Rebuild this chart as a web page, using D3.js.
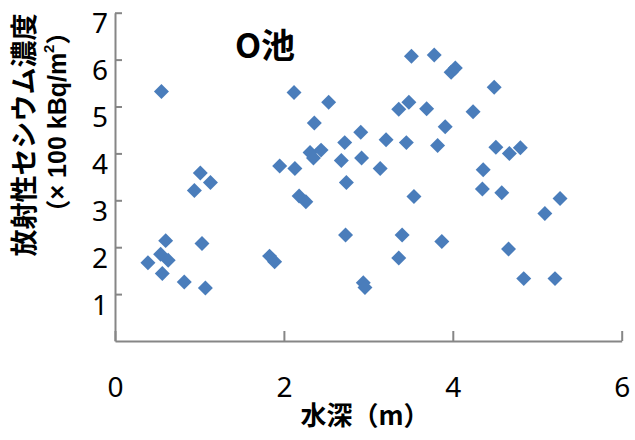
<!DOCTYPE html>
<html>
<head>
<meta charset="utf-8">
<script src="https://cdn.jsdelivr.net/npm/d3@7"></script>
<style>
  body { margin: 0; background: #fff; }
  svg { display: block; }
</style>
</head>
<body>
<div id="chart"></div>
<script>
// Water depth (m) and radioactive cesium concentration (x100 kBq/m2)
const depth = [0.39, 0.54, 0.56, 0.60, 0.63, 0.55, 0.82, 0.94, 1.01, 1.03, 1.07, 1.13,
  1.83, 1.89, 1.95, 2.12, 2.13, 2.18, 2.26, 2.31, 2.35, 2.36, 2.44, 2.53, 2.68, 2.72,
  2.73, 2.74, 2.91, 2.92, 2.94, 2.96, 3.14, 3.21, 3.36, 3.36, 3.40, 3.45, 3.48, 3.51,
  3.54, 3.69, 3.78, 3.82, 3.87, 3.91, 3.98, 4.03, 4.24, 4.35, 4.36, 4.49, 4.51, 4.58,
  4.66, 4.67, 4.80, 4.84, 5.09, 5.21, 5.27];
const cesium = [1.67, 1.85, 1.44, 2.14, 1.72, 5.32, 1.26, 3.21, 3.58, 2.08, 1.13, 3.38,
  1.81, 1.69, 3.73, 5.30, 3.68, 3.09, 2.97, 4.02, 3.90, 4.65, 4.07, 5.09, 3.85, 4.23,
  2.26, 3.38, 4.45, 3.90, 1.24, 1.14, 3.68, 4.29, 4.94, 1.77, 2.26, 4.23, 5.09, 6.07,
  3.08, 4.95, 6.10, 4.17, 2.12, 4.57, 5.73, 5.82, 4.89, 3.24, 3.65, 5.41, 4.13, 3.16,
  1.96, 4.00, 4.12, 1.33, 2.72, 1.33, 3.04];
const xTicks = [0, 2, 4, 6];
const yTicks = [1, 2, 3, 4, 5, 6, 7];

const width = 635, height = 440;
const axisColor = "#868686";
const markColor = "#4a7dbb";

const svg = d3.select("#chart").append("svg")
    .attr("width", width)
    .attr("height", height);

const x = d3.scaleLinear().domain([0, 6]).range([115, 621.7]);
const y = d3.scaleLinear().domain([0, 7]).range([341, 12.7]);

// x axis, ticks pointing up into the plot
const gx = svg.append("g")
    .attr("transform", `translate(0,${y(0)})`)
    .call(d3.axisBottom(x).tickValues(xTicks).tickFormat(d3.format("d"))
        .tickSize(-10).tickSizeOuter(0).tickPadding(36));

// y axis, ticks pointing right into the plot
const gy = svg.append("g")
    .attr("transform", `translate(${x(0)},0)`)
    .call(d3.axisLeft(y).tickValues(yTicks).tickFormat(d3.format("d"))
        .tickSize(-7).tickSizeOuter(0).tickPadding(7));

[gx, gy].forEach(g => {
    g.select(".domain").attr("stroke", axisColor).attr("stroke-width", 2);
    g.selectAll(".tick line").attr("stroke", axisColor).attr("stroke-width", 2);
    g.selectAll(".tick text")
        .attr("fill", "#000")
        .style("font-family", "'Noto Sans', sans-serif")
        .style("font-size", "28px");
});
gy.selectAll(".tick text").attr("y", 11);

// markers
const points = depth.map((d, i) => ({ depth: d, cesium: cesium[i] }));
svg.append("g").selectAll("path")
    .data(points)
    .enter()
    .append("path")
    .attr("d", d3.symbol().type(d3.symbolSquare).size(112))
    .attr("transform", d => `translate(${x(d.depth)},${y(d.cesium)}) rotate(45)`)
    .attr("fill", markColor);

// title
svg.append("text")
    .attr("x", 265)
    .attr("y", 58)
    .attr("text-anchor", "middle")
    .style("font-family", "'Noto Sans CJK JP', sans-serif")
    .style("font-weight", "bold")
    .style("font-size", "34px")
    .text("O池");

// x axis title
svg.append("text")
    .attr("x", 365)
    .attr("y", 425)
    .attr("text-anchor", "middle")
    .style("font-family", "'Noto Sans CJK JP', sans-serif")
    .style("font-weight", "bold")
    .style("font-size", "26px")
    .text("水深（m）");

// y axis title, two lines
svg.append("text")
    .attr("transform", "translate(22,135) rotate(-90)")
    .attr("text-anchor", "middle")
    .attr("dominant-baseline", "central")
    .style("font-family", "'Noto Sans CJK JP', sans-serif")
    .style("font-weight", "bold")
    .style("font-size", "27px")
    .text("放射性セシウム濃度");

const yUnit = svg.append("text")
    .attr("transform", "translate(57,122) rotate(-90)")
    .attr("text-anchor", "middle")
    .attr("dominant-baseline", "central")
    .style("font-family", "'Liberation Sans', 'Noto Sans CJK JP', sans-serif")
    .style("font-weight", "bold")
    .style("font-size", "25px");
yUnit.append("tspan").style("font-family", "'Noto Sans CJK JP', sans-serif").text("（");
yUnit.append("tspan").text("× 100 kBq/m");
yUnit.append("tspan").attr("dy", -9).style("font-size", "15px").text("2");
yUnit.append("tspan").attr("dy", 9).style("font-family", "'Noto Sans CJK JP', sans-serif").text("）");
</script>
</body>
</html>
